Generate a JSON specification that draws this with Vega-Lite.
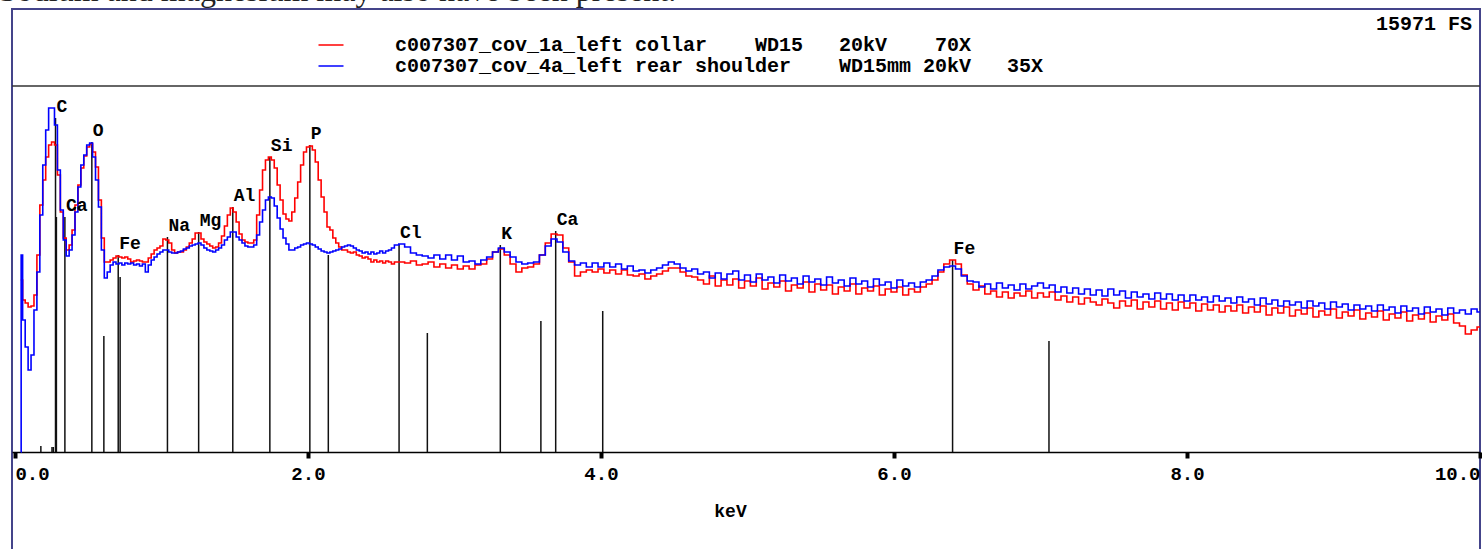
{
  "$schema": "https://vega.github.io/schema/vega-lite/v6.json",
  "width": 1468,
  "height": 542,
  "autosize": {"type": "none"},
  "padding": {"left": 12, "top": 9, "right": 2, "bottom": -2},
  "background": "white",
  "title": {"text": "Sodium and magnesium may also have been present.", "anchor": "start", "frame": "group", "orient": "top", "offset": -24, "baseline": "alphabetic", "font": "Liberation Serif", "fontSize": 32, "fontWeight": "normal", "color": "#222222", "dx": -13},
  "config": {
    "view": {"stroke": "#44448a", "strokeWidth": 2},
    "axis": {"domainColor": "black", "domainWidth": 1.5, "tickColor": "black", "tickWidth": 4, "tickSize": 6, "labelFont": "Liberation Mono", "labelFontWeight": "bold", "labelFontSize": 19, "labelColor": "black", "labelPadding": 6, "labelFlush": 5, "titleFont": "Liberation Mono", "titleFontWeight": "bold", "titleFontSize": 18, "titleColor": "black", "grid": false}
  },
  "datasets": {
    "spectra": [
      {"e":0.04,"r":172,"b":0},{"e":0.045,"r":172,"b":197},{"e":0.06,"r":152,"b":132},{"e":0.08,"r":149,"b":105},{"e":0.10,"r":145,"b":82},{"e":0.12,"r":146,"b":97},{"e":0.14,"r":157,"b":142},{"e":0.16,"r":197,"b":180},{"e":0.18,"r":247,"b":237},{"e":0.20,"r":272,"b":287},{"e":0.22,"r":295,"b":322},{"e":0.24,"r":307,"b":344},{"e":0.26,"r":310,"b":344},{"e":0.28,"r":307,"b":327},{"e":0.30,"r":277,"b":282},{"e":0.32,"r":240,"b":242},{"e":0.34,"r":214,"b":212},{"e":0.36,"r":202,"b":196},{"e":0.38,"r":207,"b":202},{"e":0.40,"r":222,"b":217},{"e":0.42,"r":247,"b":240},{"e":0.44,"r":267,"b":265},{"e":0.46,"r":284,"b":287},{"e":0.48,"r":296,"b":297},{"e":0.50,"r":305,"b":307},{"e":0.52,"r":308,"b":309},{"e":0.54,"r":300,"b":295},{"e":0.56,"r":285,"b":272},{"e":0.58,"r":252,"b":245},{"e":0.60,"r":214,"b":202},{"e":0.62,"r":190,"b":174},{"e":0.64,"r":190,"b":180},{"e":0.66,"r":192,"b":187},{"e":0.68,"r":194,"b":190},{"e":0.70,"r":196,"b":188},{"e":0.72,"r":195,"b":189},{"e":0.74,"r":194,"b":187},{"e":0.76,"r":195,"b":189},{"e":0.78,"r":193,"b":188},{"e":0.80,"r":190,"b":189},{"e":0.82,"r":191,"b":187},{"e":0.84,"r":192,"b":188},{"e":0.86,"r":191,"b":186},{"e":0.88,"r":190,"b":188},{"e":0.90,"r":190,"b":180},{"e":0.92,"r":194,"b":187},{"e":0.94,"r":198,"b":192},{"e":0.96,"r":202,"b":195},{"e":0.98,"r":204,"b":198},{"e":1.00,"r":206,"b":200},{"e":1.02,"r":213,"b":202},{"e":1.04,"r":212,"b":202},{"e":1.06,"r":209,"b":200},{"e":1.08,"r":202,"b":199},{"e":1.10,"r":199,"b":199},{"e":1.12,"r":200,"b":200},{"e":1.14,"r":200,"b":201},{"e":1.16,"r":202,"b":203},{"e":1.18,"r":205,"b":204},{"e":1.20,"r":209,"b":206},{"e":1.22,"r":213,"b":207},{"e":1.24,"r":219,"b":208},{"e":1.26,"r":219,"b":209},{"e":1.28,"r":213,"b":207},{"e":1.30,"r":210,"b":204},{"e":1.32,"r":208,"b":202},{"e":1.34,"r":206,"b":201},{"e":1.36,"r":204,"b":200},{"e":1.38,"r":205,"b":202},{"e":1.40,"r":209,"b":204},{"e":1.42,"r":216,"b":207},{"e":1.44,"r":226,"b":212},{"e":1.46,"r":237,"b":215},{"e":1.48,"r":244,"b":220},{"e":1.50,"r":240,"b":220},{"e":1.52,"r":230,"b":215},{"e":1.54,"r":218,"b":212},{"e":1.56,"r":212,"b":209},{"e":1.58,"r":210,"b":206},{"e":1.60,"r":209,"b":205},{"e":1.62,"r":209,"b":205},{"e":1.64,"r":212,"b":207},{"e":1.66,"r":237,"b":217},{"e":1.68,"r":262,"b":230},{"e":1.70,"r":282,"b":242},{"e":1.72,"r":292,"b":252},{"e":1.74,"r":295,"b":255},{"e":1.76,"r":292,"b":254},{"e":1.78,"r":284,"b":246},{"e":1.80,"r":267,"b":234},{"e":1.82,"r":252,"b":223},{"e":1.84,"r":238,"b":214},{"e":1.86,"r":233,"b":208},{"e":1.88,"r":231,"b":202},{"e":1.90,"r":240,"b":202},{"e":1.92,"r":254,"b":204},{"e":1.94,"r":270,"b":205},{"e":1.96,"r":287,"b":207},{"e":1.98,"r":300,"b":208},{"e":2.00,"r":305,"b":209},{"e":2.02,"r":306,"b":208},{"e":2.04,"r":302,"b":207},{"e":2.06,"r":290,"b":205},{"e":2.08,"r":272,"b":203},{"e":2.10,"r":255,"b":201},{"e":2.12,"r":240,"b":200},{"e":2.14,"r":225,"b":199},{"e":2.16,"r":222,"b":200},{"e":2.18,"r":214,"b":201},{"e":2.20,"r":209,"b":202},{"e":2.22,"r":205,"b":203},{"e":2.24,"r":202,"b":205},{"e":2.26,"r":202,"b":206},{"e":2.28,"r":200,"b":207},{"e":2.30,"r":199,"b":206},{"e":2.32,"r":200,"b":204},{"e":2.34,"r":197,"b":202},{"e":2.36,"r":196,"b":201},{"e":2.38,"r":194,"b":199},{"e":2.40,"r":195,"b":200},{"e":2.42,"r":193,"b":198},{"e":2.44,"r":190,"b":200},{"e":2.46,"r":192,"b":198},{"e":2.48,"r":190,"b":199},{"e":2.50,"r":191,"b":201},{"e":2.52,"r":189,"b":199},{"e":2.54,"r":191,"b":201},{"e":2.56,"r":190,"b":202},{"e":2.58,"r":188,"b":204},{"e":2.60,"r":190,"b":207},
      {"e":2.64,"r":190,"b":208},{"e":2.68,"r":189,"b":205},{"e":2.72,"r":191,"b":199},{"e":2.76,"r":187,"b":197},{"e":2.80,"r":188,"b":196},{"e":2.84,"r":190,"b":194},{"e":2.88,"r":185,"b":197},{"e":2.92,"r":188,"b":193},{"e":2.96,"r":184,"b":197},{"e":3.00,"r":187,"b":192},{"e":3.04,"r":183,"b":196},{"e":3.08,"r":186,"b":190},{"e":3.12,"r":183,"b":191},{"e":3.16,"r":187,"b":188},{"e":3.20,"r":188,"b":192},{"e":3.24,"r":193,"b":195},{"e":3.28,"r":200,"b":200},{"e":3.32,"r":203,"b":204},{"e":3.36,"r":197,"b":200},{"e":3.40,"r":188,"b":195},{"e":3.44,"r":180,"b":190},{"e":3.48,"r":184,"b":188},{"e":3.52,"r":185,"b":189},{"e":3.56,"r":188,"b":190},{"e":3.60,"r":197,"b":197},{"e":3.64,"r":209,"b":206},{"e":3.68,"r":218,"b":213},{"e":3.72,"r":217,"b":210},{"e":3.76,"r":204,"b":200},{"e":3.80,"r":190,"b":191},{"e":3.84,"r":176,"b":187},{"e":3.88,"r":180,"b":189},{"e":3.92,"r":182,"b":185},{"e":3.96,"r":180,"b":189},{"e":4.00,"r":183,"b":185},{"e":4.04,"r":179,"b":189},{"e":4.08,"r":182,"b":185},{"e":4.12,"r":178,"b":188},{"e":4.16,"r":182,"b":183},{"e":4.20,"r":177,"b":186},{"e":4.24,"r":176,"b":181},{"e":4.28,"r":178,"b":182},{"e":4.32,"r":173,"b":179},{"e":4.36,"r":176,"b":182},{"e":4.40,"r":178,"b":184},{"e":4.44,"r":181,"b":187},{"e":4.48,"r":184,"b":190},{"e":4.52,"r":184,"b":188},{"e":4.56,"r":180,"b":184},{"e":4.60,"r":176,"b":181},{"e":4.64,"r":175,"b":183},{"e":4.68,"r":172,"b":178},
      {"e":4.72,"r":168,"b":180},{"e":4.76,"r":176,"b":174},{"e":4.80,"r":166,"b":179},{"e":4.84,"r":172,"b":173},{"e":4.88,"r":167,"b":178},{"e":4.92,"r":173,"b":181},{"e":4.96,"r":164,"b":172},{"e":5.00,"r":171,"b":177},{"e":5.04,"r":166,"b":170},{"e":5.08,"r":174,"b":178},{"e":5.12,"r":163,"b":172},{"e":5.16,"r":169,"b":175},{"e":5.20,"r":165,"b":169},{"e":5.24,"r":171,"b":177},{"e":5.28,"r":161,"b":171},{"e":5.32,"r":167,"b":174},{"e":5.36,"r":164,"b":168},{"e":5.40,"r":170,"b":176},{"e":5.44,"r":160,"b":170},{"e":5.48,"r":168,"b":173},{"e":5.52,"r":162,"b":167},{"e":5.56,"r":167,"b":175},{"e":5.60,"r":158,"b":169},{"e":5.64,"r":165,"b":172},{"e":5.68,"r":161,"b":166},{"e":5.72,"r":168,"b":174},{"e":5.76,"r":158,"b":168},{"e":5.80,"r":164,"b":171},{"e":5.84,"r":161,"b":165},{"e":5.88,"r":166,"b":173},{"e":5.92,"r":157,"b":167},{"e":5.96,"r":163,"b":170},{"e":6.00,"r":160,"b":164},{"e":6.04,"r":165,"b":172},{"e":6.08,"r":157,"b":166},{"e":6.12,"r":163,"b":169},{"e":6.16,"r":160,"b":165},{"e":6.20,"r":165,"b":170},{"e":6.24,"r":168,"b":172},{"e":6.28,"r":172,"b":176},{"e":6.32,"r":180,"b":182},{"e":6.36,"r":188,"b":185},{"e":6.40,"r":192,"b":186},{"e":6.44,"r":188,"b":183},{"e":6.48,"r":177,"b":176},{"e":6.52,"r":168,"b":171},
      {"e":6.56,"r":162,"b":170},{"e":6.60,"r":166,"b":165},{"e":6.64,"r":158,"b":168},{"e":6.68,"r":161,"b":163},{"e":6.72,"r":155,"b":169},{"e":6.76,"r":160,"b":164},{"e":6.80,"r":154,"b":167},{"e":6.84,"r":159,"b":162},{"e":6.88,"r":156,"b":168},{"e":6.92,"r":161,"b":163},{"e":6.96,"r":154,"b":166},{"e":7.00,"r":159,"b":169},{"e":7.04,"r":155,"b":164},{"e":7.08,"r":160,"b":167},{"e":7.12,"r":152,"b":160},{"e":7.16,"r":156,"b":165},{"e":7.20,"r":150,"b":159},{"e":7.24,"r":155,"b":164},{"e":7.28,"r":148,"b":158},{"e":7.32,"r":154,"b":163},{"e":7.36,"r":150,"b":157},{"e":7.40,"r":147,"b":162},{"e":7.44,"r":153,"b":156},{"e":7.48,"r":149,"b":163},{"e":7.52,"r":144,"b":157},{"e":7.56,"r":151,"b":161},{"e":7.60,"r":146,"b":154},{"e":7.64,"r":152,"b":160},{"e":7.68,"r":143,"b":155},{"e":7.72,"r":150,"b":158},{"e":7.76,"r":145,"b":153},{"e":7.80,"r":151,"b":159},{"e":7.84,"r":143,"b":153},{"e":7.88,"r":149,"b":158},{"e":7.92,"r":142,"b":152},{"e":7.96,"r":150,"b":157},{"e":8.00,"r":144,"b":151},{"e":8.04,"r":149,"b":157},{"e":8.08,"r":141,"b":152},{"e":8.12,"r":148,"b":155},{"e":8.16,"r":142,"b":150},{"e":8.20,"r":147,"b":156},{"e":8.24,"r":140,"b":151},{"e":8.28,"r":146,"b":154},{"e":8.32,"r":141,"b":149},{"e":8.36,"r":147,"b":155},{"e":8.40,"r":139,"b":150},{"e":8.44,"r":145,"b":153},{"e":8.48,"r":140,"b":147},{"e":8.52,"r":146,"b":154},{"e":8.56,"r":137,"b":148},{"e":8.60,"r":144,"b":152},{"e":8.64,"r":139,"b":146},{"e":8.68,"r":145,"b":151},{"e":8.72,"r":136,"b":147},{"e":8.76,"r":142,"b":150},{"e":8.80,"r":138,"b":144},{"e":8.84,"r":144,"b":151},{"e":8.88,"r":135,"b":146},{"e":8.92,"r":141,"b":149},{"e":8.96,"r":137,"b":143},{"e":9.00,"r":143,"b":150},{"e":9.04,"r":134,"b":145},{"e":9.08,"r":140,"b":148},{"e":9.12,"r":136,"b":142},{"e":9.16,"r":142,"b":147},{"e":9.20,"r":133,"b":143},{"e":9.24,"r":139,"b":146},{"e":9.28,"r":135,"b":141},{"e":9.32,"r":141,"b":147},{"e":9.36,"r":132,"b":142},{"e":9.40,"r":138,"b":145},{"e":9.44,"r":134,"b":139},{"e":9.48,"r":140,"b":146},{"e":9.52,"r":131,"b":141},{"e":9.56,"r":137,"b":144},{"e":9.60,"r":133,"b":138},{"e":9.64,"r":139,"b":145},{"e":9.68,"r":130,"b":140},{"e":9.72,"r":136,"b":143},{"e":9.76,"r":132,"b":137},{"e":9.80,"r":138,"b":144},{"e":9.84,"r":129,"b":139},{"e":9.88,"r":126,"b":142},{"e":9.92,"r":118,"b":138},{"e":9.96,"r":122,"b":143},{"e":10.00,"r":125,"b":140}
    ],
    "markers": [
      {"e":0.177,"h":6},{"e":0.253,"h":5},{"e":0.262,"h":5},{"e":0.277,"h":334},{"e":0.283,"h":235},{"e":0.341,"h":235},{"e":0.525,"h":310},{"e":0.607,"h":116},{"e":0.705,"h":197},{"e":0.718,"h":175},{"e":1.041,"h":215},{"e":1.254,"h":220},{"e":1.487,"h":245},{"e":1.740,"h":295},{"e":2.013,"h":307},{"e":2.139,"h":197},{"e":2.622,"h":208},{"e":2.815,"h":119},{"e":3.313,"h":207},{"e":3.590,"h":131},{"e":3.691,"h":221},{"e":4.012,"h":141},{"e":6.400,"h":192},{"e":7.058,"h":111}
    ],
    "labels": [
      {"el":"C","e":0.277,"h":334},{"el":"Ca","e":0.341,"h":235},{"el":"O","e":0.525,"h":310},{"el":"Fe","e":0.705,"h":197},{"el":"Na","e":1.041,"h":215},{"el":"Mg","e":1.254,"h":220},{"el":"Al","e":1.487,"h":245},{"el":"Si","e":1.740,"h":295},{"el":"P","e":2.013,"h":307},{"el":"Cl","e":2.622,"h":208},{"el":"K","e":3.313,"h":207},{"el":"Ca","e":3.691,"h":221},{"el":"Fe","e":6.400,"h":192}
    ]
  },
  "layer": [
    {
      "data": {"values": [{}]},
      "mark": {"type": "rule", "color": "#333333", "strokeWidth": 1.5},
      "encoding": {"y": {"datum": 366, "type": "quantitative", "scale": {"domain": [-99, 443], "nice": false, "zero": false}, "axis": null}}
    },
    {
      "data": {"name": "markers"},
      "mark": {"type": "rule", "color": "#111111", "strokeWidth": 1.5},
      "encoding": {
        "x": {"field": "e", "type": "quantitative", "scale": {"domain": [-0.02, 10], "nice": false, "zero": false}, "axis": {"values": [0, 2, 4, 6, 8, 10], "format": ".1f", "title": "keV", "offset": -99, "titleX": 718, "titleY": 50, "titleBaseline": "top"}},
        "y": {"field": "h", "type": "quantitative", "scale": {"domain": [-99, 443], "nice": false, "zero": false}, "axis": null},
        "y2": {"datum": 0}
      }
    },
    {
      "data": {"name": "spectra"},
      "mark": {"type": "line", "interpolate": "step", "strokeWidth": 1.6},
      "encoding": {
        "x": {"field": "e", "type": "quantitative", "scale": {"domain": [-0.02, 10], "nice": false, "zero": false}, "axis": {"values": [0, 2, 4, 6, 8, 10], "format": ".1f", "title": "keV", "offset": -99, "titleX": 718, "titleY": 50, "titleBaseline": "top"}},
        "y": {"field": "r", "type": "quantitative", "scale": {"domain": [-99, 443], "nice": false, "zero": false}, "axis": null},
        "color": {"datum": "r", "type": "nominal", "scale": {"domain": ["r", "b"], "range": ["#ff0000", "#0000ff"]}, "legend": {"orient": "none", "legendX": 308, "legendY": 25, "title": null, "direction": "vertical", "symbolType": "M-1.25,0H1.25", "symbolSize": 400, "symbolStrokeWidth": 1.5, "labelOffset": 53, "rowPadding": 0, "padding": 0, "labelFont": "Liberation Mono", "labelFontWeight": "bold", "labelFontSize": 20, "labelColor": "black", "labelLimit": 1000, "labelExpr": "datum.value == 'r' ? 'c007307_cov_1a_left collar\u00a0\u00a0\u00a0\u00a0WD15\u00a0\u00a0\u00a020kV\u00a0\u00a0\u00a0\u00a070X' : 'c007307_cov_4a_left rear shoulder\u00a0\u00a0\u00a0\u00a0WD15mm 20kV\u00a0\u00a0\u00a035X'"}}
      }
    },
    {
      "data": {"name": "spectra"},
      "mark": {"type": "line", "interpolate": "step", "strokeWidth": 1.6},
      "encoding": {
        "x": {"field": "e", "type": "quantitative", "scale": {"domain": [-0.02, 10], "nice": false, "zero": false}, "axis": {"values": [0, 2, 4, 6, 8, 10], "format": ".1f", "title": "keV", "offset": -99, "titleX": 718, "titleY": 50, "titleBaseline": "top"}},
        "y": {"field": "b", "type": "quantitative", "scale": {"domain": [-99, 443], "nice": false, "zero": false}, "axis": null},
        "color": {"datum": "b", "type": "nominal", "scale": {"domain": ["r", "b"], "range": ["#ff0000", "#0000ff"]}, "legend": {"orient": "none", "legendX": 308, "legendY": 25, "title": null, "direction": "vertical", "symbolType": "M-1.25,0H1.25", "symbolSize": 400, "symbolStrokeWidth": 1.5, "labelOffset": 53, "rowPadding": 0, "padding": 0, "labelFont": "Liberation Mono", "labelFontWeight": "bold", "labelFontSize": 20, "labelColor": "black", "labelLimit": 1000, "labelExpr": "datum.value == 'r' ? 'c007307_cov_1a_left collar\u00a0\u00a0\u00a0\u00a0WD15\u00a0\u00a0\u00a020kV\u00a0\u00a0\u00a0\u00a070X' : 'c007307_cov_4a_left rear shoulder\u00a0\u00a0\u00a0\u00a0WD15mm 20kV\u00a0\u00a0\u00a035X'"}}
      }
    },
    {
      "data": {"name": "labels"},
      "mark": {"type": "text", "align": "left", "baseline": "alphabetic", "dx": 1, "dy": -6, "font": "Liberation Mono", "fontWeight": "bold", "fontSize": 18, "color": "black"},
      "encoding": {
        "x": {"field": "e", "type": "quantitative"},
        "y": {"field": "h", "type": "quantitative"},
        "text": {"field": "el"}
      }
    },
    {
      "data": {"values": [{}]},
      "mark": {"type": "text", "align": "right", "baseline": "middle", "font": "Liberation Mono", "fontWeight": "bold", "fontSize": 20, "color": "black"},
      "encoding": {
        "x": {"datum": 9.945, "type": "quantitative"},
        "y": {"datum": 428, "type": "quantitative"},
        "text": {"value": "15971 FS"}
      }
    }
  ]
}
